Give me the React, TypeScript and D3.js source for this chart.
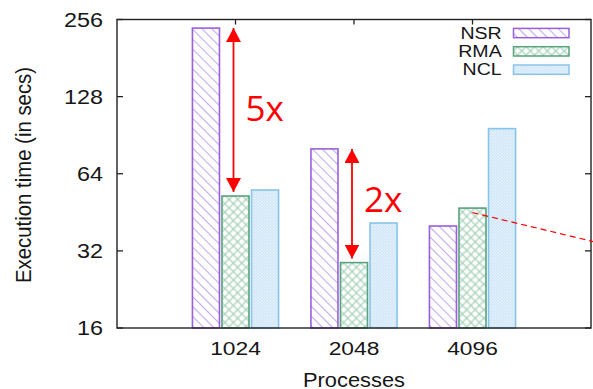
import React from "react";
import * as d3 from "d3";

// Process counts on the x axis and execution times (seconds) per method
const processes = ["1024", "2048", "4096"];
const seriesNames = ["NSR", "RMA", "NCL"];
const nsrTimes = [237, 80, 40];
const rmaTimes = [52.4, 28.8, 47];
const nclTimes = [55.3, 41.1, 96];
const yTicks = [16, 32, 64, 128, 256];

// Speed-up annotations: [group index, from series, to series, label]
const speedups: [number, number, number, string][] = [
  [0, 0, 1, "5x"],
  [1, 0, 1, "2x"],
];

const W = 593;
const H = 389;
const M = { left: 117, right: 591, top: 19.5, bottom: 328 };
const FONT = "'Liberation Sans', Arial, Helvetica, sans-serif";
const SX = 1.2; // horizontal text stretch
const TEXT = "#161616";

const colors = {
  NSR: { stroke: "#9a5fdc", line: "#c6aaee" },
  RMA: { stroke: "#58a27d", line: "#a4d0b8" },
  NCL: { stroke: "#88c4ea", bg: "#d0e7f8", dot: "#eef6fc" },
};

export default function App() {
  const values = [nsrTimes, rmaTimes, nclTimes];
  const x = d3.scaleLinear().domain([0, processes.length + 1]).range([M.left, M.right]);
  const y = d3.scaleLog().base(2).domain([16, 256]).range([M.bottom, M.top]);
  const pitch = 29.5;
  const inner = d3
    .scaleBand<number>()
    .domain([0, 1, 2])
    .range([-pitch * 1.5, pitch * 1.5])
    .paddingInner(0.085)
    .paddingOuter(0.04);
  const bw = inner.bandwidth();
  const fills = ["url(#pNSR)", "url(#pRMA)", "url(#pNCL)"];
  const strokes = [colors.NSR.stroke, colors.RMA.stroke, colors.NCL.stroke];

  return (
    <svg
      width={W}
      height={H}
      style={{ position: "absolute", left: 0, top: 0, background: "#fff" }}
      fontFamily={FONT}
    >
      <defs>
        <pattern id="pNSR" width={7} height={7} patternUnits="userSpaceOnUse" patternTransform="rotate(45)">
          <rect width={7} height={7} fill="#fff" />
          <line x1={0} y1={3.5} x2={7} y2={3.5} stroke={colors.NSR.line} strokeWidth={1.1} />
        </pattern>
        <pattern id="pRMA" width={6} height={6} patternUnits="userSpaceOnUse" patternTransform="rotate(45)">
          <rect width={6} height={6} fill="#fff" />
          <line x1={0} y1={3} x2={6} y2={3} stroke={colors.RMA.line} strokeWidth={1.2} />
          <line x1={3} y1={0} x2={3} y2={6} stroke={colors.RMA.line} strokeWidth={1.2} />
        </pattern>
        <pattern id="pNCL" width={3} height={3} patternUnits="userSpaceOnUse">
          <rect width={3} height={3} fill={colors.NCL.bg} />
          <rect x={0} y={0} width={1.2} height={1.2} fill={colors.NCL.dot} />
          <rect x={1.5} y={1.5} width={1.2} height={1.2} fill={colors.NCL.dot} />
        </pattern>
        <marker id="arrowHead" viewBox="0 0 14 15" refX={14} refY={7.5} markerWidth={14} markerHeight={15} markerUnits="userSpaceOnUse" orient="auto-start-reverse">
          <path d="M0,0 L14,7.5 L0,15 Z" fill="#ff0000" />
        </marker>
      </defs>

      {/* y ticks, both sides */}
      {yTicks.map((t) => (
        <g key={t}>
          <line x1={M.left} x2={M.left + 6} y1={y(t)} y2={y(t)} stroke="#222" strokeWidth={1.3} />
          <line x1={M.right - 6} x2={M.right} y1={y(t)} y2={y(t)} stroke="#222" strokeWidth={1.3} />
          <text
            transform={`translate(103,${y(t)}) scale(${SX},1)`}
            dy="0.36em"
            textAnchor="end"
            fontSize={19.5}
            fill={TEXT}
          >
            {t}
          </text>
        </g>
      ))}

      {/* x ticks, top and bottom */}
      {processes.map((p, i) => (
        <g key={p}>
          <line x1={x(i + 1)} x2={x(i + 1)} y1={M.top} y2={M.top + 5} stroke="#222" strokeWidth={1.3} />
          <line x1={x(i + 1)} x2={x(i + 1)} y1={M.bottom} y2={M.bottom - 5} stroke="#222" strokeWidth={1.3} />
          <text
            transform={`translate(${x(i + 1)},355) scale(${SX},1)`}
            textAnchor="middle"
            fontSize={19}
            fill={TEXT}
          >
            {p}
          </text>
        </g>
      ))}

      {/* bars */}
      {processes.map((p, i) =>
        values.map((vals, s) => {
          const x0 = x(i + 1) + (inner(s) as number);
          const top = y(vals[i]);
          return (
            <rect
              key={p + s}
              x={x0}
              y={top}
              width={bw}
              height={M.bottom - top}
              fill={fills[s]}
              stroke={strokes[s]}
              strokeWidth={1.6}
            />
          );
        })
      )}

      {/* frame */}
      <rect
        x={M.left}
        y={M.top}
        width={M.right - M.left}
        height={M.bottom - M.top}
        fill="none"
        stroke="#222"
        strokeWidth={1.4}
      />

      {/* legend */}
      {seriesNames.map((n, s) => {
        const cy = 33 + s * 18.3;
        return (
          <g key={n}>
            <text
              transform={`translate(501.7,${cy}) scale(${SX},1)`}
              dy="0.36em"
              textAnchor="end"
              fontSize={16.3}
              fill={TEXT}
            >
              {n}
            </text>
            <rect x={513.5} y={cy - 4.6} width={55.5} height={9.3} fill={fills[s]} stroke={strokes[s]} strokeWidth={1.5} />
          </g>
        );
      })}

      {/* axis titles */}
      <text
        transform={`translate(30.7,175) scale(${SX},1) rotate(-90)`}
        textAnchor="middle"
        fontSize={18.5}
        textLength={216}
        lengthAdjust="spacingAndGlyphs"
        fill={TEXT}
      >
        Execution time (in secs)
      </text>
      <text
        transform={`translate(${x(2)},386.7) scale(1.12,1)`}
        textAnchor="middle"
        fontSize={19.5}
        fill={TEXT}
      >
        Processes
      </text>

      {/* speed-up annotations */}
      {speedups.map(([g, a, b, label]) => {
        const ax = x(g + 1) - 2;
        const y1 = y(values[a][g]);
        const y2 = y(values[b][g]) - 4;
        return (
          <g key={label}>
            <line
              x1={ax}
              x2={ax}
              y1={y1}
              y2={y2}
              stroke="#ff0000"
              strokeWidth={1.8}
              markerStart="url(#arrowHead)"
              markerEnd="url(#arrowHead)"
            />
            <text
              x={ax + 12}
              y={(y1 + y2) / 2 - (g === 0 ? 2 : 4)}
              dy="0.36em"
              fontFamily="'Open Sans', 'Noto Sans', sans-serif"
              fontSize={35}
              fill="#ff0000"
            >
              {label}
            </text>
          </g>
        );
      })}

      {/* trend hint leaving the plot */}
      <line
        x1={x(3)}
        y1={y(rmaTimes[2]) + 4.5}
        x2={W + 10}
        y2={y(rmaTimes[2]) + 4.5 + (W + 10 - x(3)) * 0.24}
        stroke="#ff0000"
        strokeWidth={1.2}
        strokeDasharray="6,4"
      />
    </svg>
  );
}
